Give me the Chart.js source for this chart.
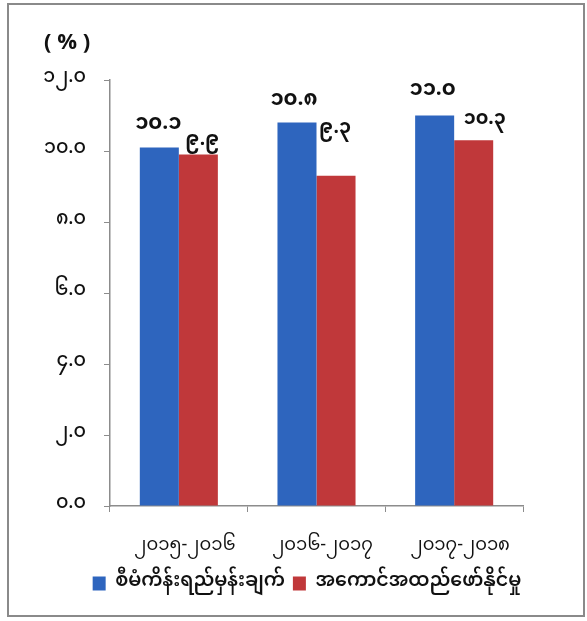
<!DOCTYPE html>
<html>
<head>
<meta charset="utf-8">
<script src="https://cdn.jsdelivr.net/npm/chart.js@4.4.0/dist/chart.umd.min.js"></script>
<style>
  html, body { margin: 0; padding: 0; background: #fff; }
  #frame { position: absolute; left: 7px; top: 3px; width: 574px; height: 610px; border: 2px solid #8a8a8a; }
  #frame canvas { display: block; }
</style>
</head>
<body>
<div id="frame"><canvas id="c" width="574" height="610"></canvas></div>
<script>
// ---- data ----
const categories = ['၂၀၁၅-၂၀၁၆', '၂၀၁၆-၂၀၁၇', '၂၀၁၇-၂၀၁၈'];
const seriesNames = ['စီမံကိန်းရည်မှန်းချက်', 'အကောင်အထည်ဖော်နိုင်မှု'];
const planTarget = [10.1, 10.8, 11.0];
const achieved = [9.9, 9.3, 10.3];
const planLabels = ['၁၀.၁', '၁၀.၈', '၁၁.၀'];
const achievedLabels = ['၉.၉', '၉.၃', '၁၀.၃'];
const yTickLabels = ['၀.၀', '၂.၀', '၄.၀', '၆.၀', '၈.၀', '၁၀.၀', '၁၂.၀'];
const unitLabel = '( % )';

// ---- style ----
const FONT = "'Noto Sans Myanmar', 'Padauk', 'Myanmar Text', 'Noto Sans', sans-serif";
const BLUE = '#2e65be';
const RED = '#c0383a';
const AXIS = '#8c8c8c';
// label nudges (dx, px above bar top) per dataset/category
const labelNudge = [
  [[-1, 21], [-3, 20], [-2, 23]],
  [[4, 12], [-1, 45], [11, 18]]
];
const valueLabels = [planLabels, achievedLabels];
const LEGEND_SHIFT = 41;

const labelPlugin = {
  id: 'valueLabels',
  afterLayout(chart) {
    if (chart.legend) {
      chart.legend.left += LEGEND_SHIFT;
      chart.legend.right += LEGEND_SHIFT;
    }
  },
  afterDatasetsDraw(chart) {
    const ctx = chart.ctx;
    ctx.save();
    ctx.fillStyle = '#111';
    ctx.textAlign = 'center';
    ctx.textBaseline = 'middle';
    chart.data.datasets.forEach((ds, di) => {
      ctx.font = (di === 0 ? "bold 21px " : "bold 19px ") + FONT;
      const meta = chart.getDatasetMeta(di);
      meta.data.forEach((bar, i) => {
        const n = labelNudge[di][i];
        ctx.fillText(valueLabels[di][i], bar.x + n[0], bar.y - n[1]);
      });
    });
    // unit label
    ctx.font = "bold 22px " + FONT;
    ctx.textAlign = 'left';
    ctx.fillText(unitLabel, chart.chartArea.left - 66, chart.chartArea.top - 33);
    ctx.restore();
  }
};

new Chart(document.getElementById('c'), {
  type: 'bar',
  data: {
    labels: categories,
    datasets: [
      { label: seriesNames[0], data: planTarget, backgroundColor: BLUE, borderWidth: 0 },
      { label: seriesNames[1], data: achieved, backgroundColor: RED, borderWidth: 0 }
    ]
  },
  options: {
    responsive: false,
    animation: false,
    layout: { padding: { top: 75, right: 60, left: 0, bottom: 12 } },
    datasets: { bar: { categoryPercentage: 0.567, barPercentage: 1.0 } },
    plugins: {
      legend: {
        position: 'bottom',
        labels: {
          color: '#111',
          font: { family: FONT, size: 19, weight: '600' },
          boxWidth: 13, boxHeight: 14, padding: 8
        }
      },
      tooltip: { enabled: false }
    },
    scales: {
      x: {
        offset: true,
        grid: { offset: true, drawOnChartArea: false, color: AXIS, tickLength: 6 },
        border: { color: AXIS, width: 1.5 },
        ticks: { color: '#111', font: { family: FONT, size: 18 }, padding: 25, labelOffset: 6, maxRotation: 0 },
        afterFit: s => { s.height = 60; }
      },
      y: {
        min: 0, max: 12,
        grid: { drawOnChartArea: false, color: AXIS, tickLength: 6 },
        border: { color: AXIS, width: 1.5 },
        ticks: {
          stepSize: 2, color: '#111', font: { family: FONT, size: 19, weight: '500' }, padding: 18,
          callback: v => yTickLabels[Math.round(v / 2)]
        },
        afterFit: s => { s.width = 101; }
      }
    }
  },
  plugins: [labelPlugin]
});
</script>
</body>
</html>
